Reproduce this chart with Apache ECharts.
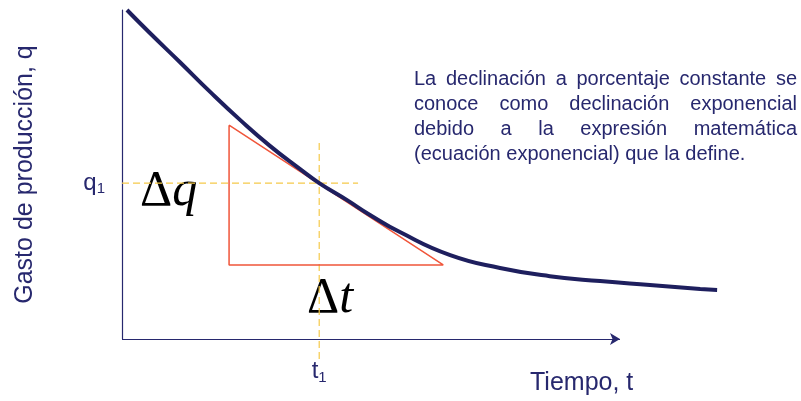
<!DOCTYPE html>
<html>
<head>
<meta charset="utf-8">
<script src="https://cdn.jsdelivr.net/npm/echarts@6/dist/echarts.min.js"></script>
<style>
  html, body { margin: 0; padding: 0; background: #fff; }
  #main { width: 801px; height: 401px; }
</style>
</head>
<body>
<div id="main"></div>
<script>
// curva de declinación (t, q) en unidades del eje
const tValues = [1.0, 5.6, 11.6, 17.7, 23.7, 29.7, 35.7, 39.6, 45.2, 49.8, 55.8, 65.9, 75.9, 85.9, 96.0, 106.0, 116.1, 119.5]
const qValues = [100, 93.0, 84.2, 75.1, 66.6, 58.7, 51.7, 47.4, 42.2, 37.7, 32.5, 25.5, 21.6, 19.1, 17.6, 16.4, 15.2, 14.9]

// triángulo de la tangente
const triT = [21.5, 21.5, 64.5, 21.5]
const triQ = [65.0, 22.5, 22.5, 65.0]

// punto (t1, q1) y guías punteadas
const t1 = 39.6
const q1 = 47.4
const hLineT = [0, 47.4]
const vLineQ = [59.6, -7.0]

// eje del tiempo (la flecha termina antes que la curva)
const timeAxisEnd = 100

const paragraph = [
  'La declinación a porcentaje constante se',
  'conoce como declinación exponencial',
  'debido a la expresión matemática',
  '(ecuación exponencial) que la define.'
]

const navy = '#27286e'
const curveColor = '#1e1f5e'
const redColor = '#f0553a'
const yellow = '#f5c94a'

const myChart = echarts.init(document.getElementById('main'))

// texto justificado: cada palabra se coloca a mano
const ctx = document.createElement('canvas').getContext('2d')
const textFont = '20px "Liberation Sans", Arial, sans-serif'
ctx.font = textFont
const textLeft = 414
const textRight = 797
const lineTop = 80
const lineStep = 25
const textElements = []
paragraph.forEach((line, i) => {
  const words = line.split(' ')
  const y = lineTop + i * lineStep
  if (i === paragraph.length - 1) {
    textElements.push({
      type: 'text', x: textLeft, y: y - 11,
      style: { text: line, font: textFont, fill: navy }
    })
    return
  }
  const widths = words.map((w) => ctx.measureText(w).width)
  const total = widths.reduce((a, b) => a + b, 0)
  const gap = (textRight - textLeft - total) / (words.length - 1)
  let x = textLeft
  words.forEach((w, k) => {
    textElements.push({
      type: 'text', x: x, y: y - 11,
      style: { text: w, font: textFont, fill: navy }
    })
    x += widths[k] + gap
  })
})

const labelRich = {
  m: { fontSize: 24, color: navy, fontFamily: 'Liberation Sans' },
  s: { fontSize: 15, color: navy, fontFamily: 'Liberation Sans', verticalAlign: 'bottom', padding: [12, 0, 0, 0] }
}

const option = {
  animation: false,
  grid: { left: 122, right: 81.4, top: 10, bottom: 62 },
  xAxis: {
    type: 'value',
    min: 0,
    max: 120,
    splitLine: { show: false },
    axisTick: { show: false },
    axisLine: { show: false },
    axisLabel: {
      customValues: [t1],
      margin: 19,
      formatter: () => '{m|t}{s|1}',
      rich: labelRich
    }
  },
  yAxis: {
    type: 'value',
    min: 0,
    max: 100,
    splitLine: { show: false },
    axisTick: { show: false },
    axisLine: { show: true, lineStyle: { color: navy, width: 1.2 } },
    axisLabel: {
      customValues: [q1],
      margin: 17,
      formatter: () => '{m|q}{s|1}',
      rich: labelRich
    },
    name: 'Gasto de producción, q',
    nameLocation: 'middle',
    nameGap: 84,
    nameTextStyle: { fontSize: 25, color: navy, fontFamily: 'Liberation Sans' }
  },
  series: [
    {
      type: 'line',
      data: [],
      silent: true,
      markLine: {
        silent: true,
        symbol: ['none', 'arrow'],
        symbolSize: [9, 10],
        label: { show: false },
        lineStyle: { color: navy, width: 1.2, type: 'solid' },
        data: [[{ coord: [0, 0] }, { coord: [timeAxisEnd, 0] }]]
      }
    },
    {
      type: 'line',
      data: hLineT.map((t) => [t, q1]),
      symbol: 'none',
      clip: false,
      lineStyle: { color: yellow, width: 1.2, type: [7, 4] }
    },
    {
      type: 'line',
      data: vLineQ.map((q) => [t1, q]),
      symbol: 'none',
      clip: false,
      lineStyle: { color: yellow, width: 1.2, type: [7, 4] }
    },
    {
      type: 'line',
      data: triT.map((t, i) => [t, triQ[i]]),
      symbol: 'none',
      clip: false,
      lineStyle: { color: redColor, width: 1.5 }
    },
    {
      type: 'line',
      data: tValues.map((t, i) => [t, qValues[i]]),
      symbol: 'none',
      smooth: true,
      clip: false,
      lineStyle: { color: curveColor, width: 4 }
    }
  ],
  graphic: [
    {
      type: 'text', left: 140, top: 167,
      style: {
        text: '{d|Δ}{q|q}',
        rich: {
          d: { font: '50px "Liberation Serif", serif', fill: '#000' },
          q: { font: 'italic 50px "Liberation Serif", serif', fill: '#000' }
        }
      }
    },
    {
      type: 'text', left: 307, top: 274,
      style: {
        text: '{d|Δ}{q|t}',
        rich: {
          d: { font: '50px "Liberation Serif", serif', fill: '#000' },
          q: { font: 'italic 50px "Liberation Serif", serif', fill: '#000' }
        }
      }
    },
    {
      type: 'text', left: 530, top: 371,
      style: { text: 'Tiempo, t', font: '25px "Liberation Sans", Arial, sans-serif', fill: navy }
    }
  ].concat(textElements)
}

myChart.setOption(option)
</script>
</body>
</html>
